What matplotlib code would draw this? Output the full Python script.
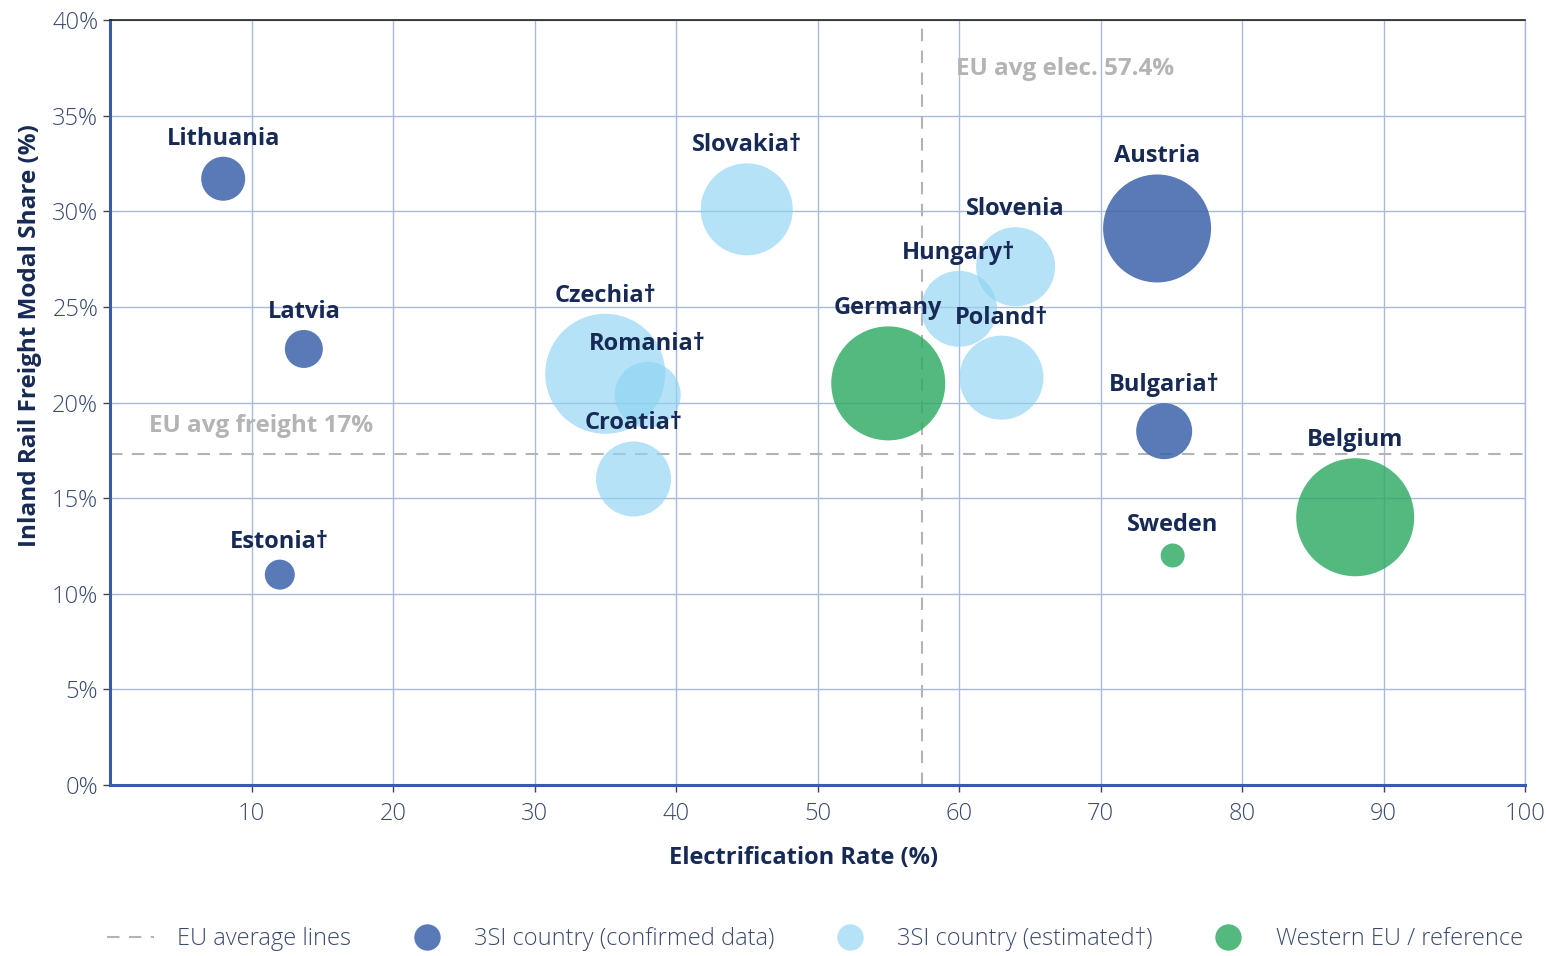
import numpy as np
import matplotlib
matplotlib.use("Agg")
from matplotlib import pyplot as plt
from matplotlib.lines import Line2D

plt.rcParams["font.family"] = ["Open Sans", "DejaVu Sans"]

# data
countries = ["Lithuania", "Latvia", "Estonia†", "Slovakia†", "Czechia†", "Romania†", "Croatia†",
             "Germany", "Hungary†", "Slovenia", "Poland†", "Austria", "Bulgaria†", "Belgium", "Sweden"]
electrification = [8, 13.7, 12, 45, 35, 38, 37, 55, 60, 64, 63, 74, 74.5, 88, 75.1]
freight_share = [31.7, 22.8, 11.0, 30.1, 21.5, 20.4, 16.0, 21.0, 24.9, 27.1, 21.3, 29.1, 18.5, 14.0, 12.0]
group = ["conf", "conf", "conf", "est", "est", "est", "est",
         "west", "est", "est", "est", "conf", "conf", "west", "west"]
bubble = [44, 38, 30, 92, 120, 66, 75, 114, 76, 79, 84, 108, 56, 118, 24]  # bubble diameter

eu_avg_elec = 57.4
eu_avg_freight = 17.3

colors = {"conf": "#3d62ab", "est": "#8ed3f2", "west": "#2eaa62"}
alphas = {"conf": 0.85, "est": 0.65, "west": 0.82}
navy = "#172a55"
tick_col = "#3b4b6e"
grid_col = "#a9b9dc"
avg_col = "#b4b4b4"

fig = plt.figure( figsize=(15.46, 9.56), dpi=100 )
ax = fig.add_axes( [110/1546, 1-785/956, 1415/1546, 765/956] )
ax.set_xlim( 0, 100 )
ax.set_ylim( 0, 40 )

ax.grid( True, color=grid_col, linewidth=1.0 )
ax.set_axisbelow( True )

# diameter px -> points
for name, x, y, g, d in zip( countries, electrification, freight_share, group, bubble ):
    d_pt = d * 72 / 100
    ax.scatter( x, y, s=d_pt**2, color=colors[g], alpha=alphas[g], edgecolors="none", zorder=3 )
for name, x, y, g, d in zip( countries, electrification, freight_share, group, bubble ):
    d_pt = d * 72 / 100
    ax.annotate( name, (x, y), xytext=(0, d_pt/2 + 13), textcoords="offset points",
                 ha="center", va="center", fontsize=17, fontweight="bold", color=navy, zorder=5 )

dash = (0, (6, 4.5))
ax.axvline( eu_avg_elec, color=avg_col, linewidth=1.5, linestyle=dash, zorder=2 )
ax.axhline( eu_avg_freight, color=avg_col, linewidth=1.5, linestyle=dash, zorder=2 )
ax.annotate( "EU avg elec. 57.4%", (eu_avg_elec, 40), xytext=(24, -35), textcoords="offset points",
             ha="left", va="center", fontsize=17.5, fontweight="bold", color=avg_col )
ax.annotate( "EU avg freight 17%", (0, eu_avg_freight), xytext=(28, 20), textcoords="offset points",
             ha="left", va="center", fontsize=17.5, fontweight="bold", color=avg_col )

ax.set_xticks( np.arange( 10, 101, 10 ) )
ax.set_yticks( np.arange( 0, 41, 5 ) )
ax.set_yticklabels( [f"{v}%" for v in range( 0, 41, 5 )] )
ax.tick_params( axis="both", labelsize=17, labelcolor=tick_col, color="#444444", length=5, width=1 )
ax.tick_params( axis="x", pad=7 )
for lab in ax.get_xticklabels() + ax.get_yticklabels():
    lab.set_fontweight( "light" )

for side in ["left", "bottom"]:
    ax.spines[side].set_color( "#3a5ca8" )
    ax.spines[side].set_linewidth( 2.2 )
ax.spines["top"].set_color( "#222222" )
ax.spines["top"].set_linewidth( 1.2 )
ax.spines["right"].set_color( grid_col )
ax.spines["right"].set_linewidth( 1.0 )

ax.set_xlabel( "Electrification Rate (%)", fontsize=17, fontweight="bold", color=navy )
ax.set_ylabel( "Inland Rail Freight Modal Share (%)", fontsize=17.5, fontweight="bold", color=navy )
ax.xaxis.set_label_coords( 0.49, -0.08 )
ax.yaxis.set_label_coords( -0.048, 0.588 )

handles = [
    Line2D( [], [], color=avg_col, linewidth=1.5, linestyle=dash ),
    Line2D( [], [], marker="o", linestyle="none", markersize=19, markerfacecolor=colors["conf"], markeredgecolor="none", alpha=alphas["conf"] ),
    Line2D( [], [], marker="o", linestyle="none", markersize=19, markerfacecolor=colors["est"], markeredgecolor="none", alpha=alphas["est"] ),
    Line2D( [], [], marker="o", linestyle="none", markersize=19, markerfacecolor=colors["west"], markeredgecolor="none", alpha=alphas["west"] ),
]
labels = ["EU average lines", "3SI country (confirmed data)", "3SI country (estimated†)", "Western EU / reference"]
leg = fig.legend( handles, labels, loc="center", bbox_to_anchor=(0.527, 1-939/956), ncol=4, frameon=False,
                  fontsize=17, handlelength=2.0, handletextpad=1.0, columnspacing=2.2 )
for t in leg.get_texts():
    t.set_color( tick_col )
    t.set_fontweight( "light" )

plt.savefig( "out.png", dpi=100 )
